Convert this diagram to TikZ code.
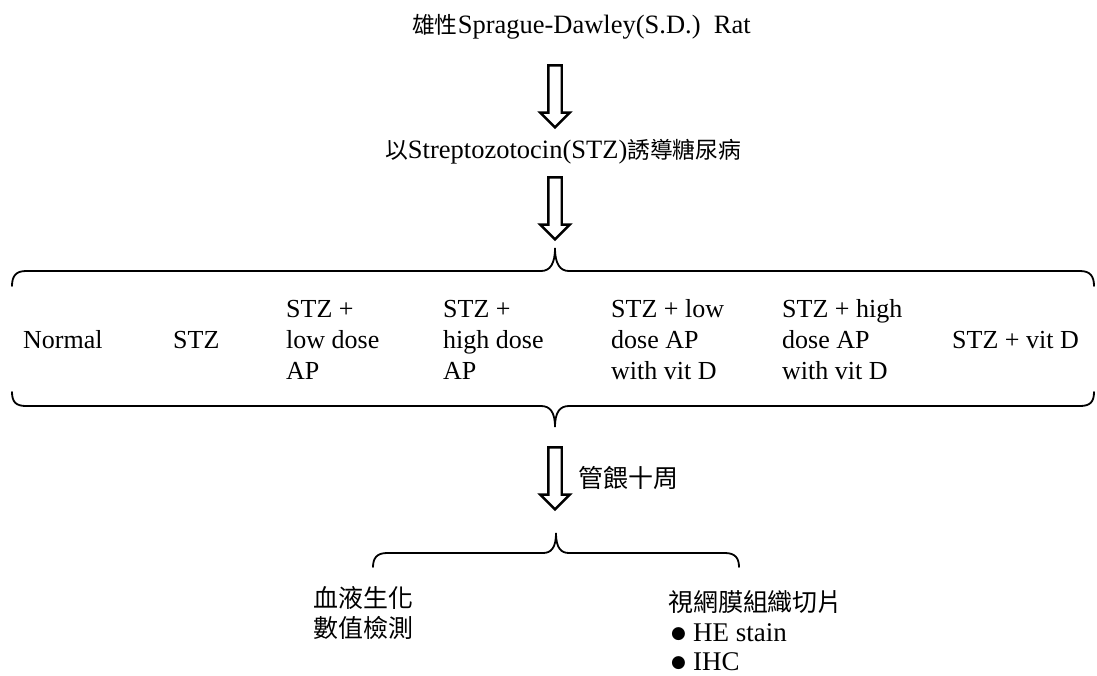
\documentclass[tikz,border=0pt]{standalone}
\usepackage{fontspec}
\setmainfont{Liberation Serif}
\newfontfamily\cjk[Scale=0.86]{Noto Sans CJK TC}
\newfontfamily\symb{DejaVu Sans}
\usetikzlibrary{shapes.arrows, positioning}

\begin{document}
\begin{tikzpicture}[
		x=1pt, y=-1pt,
		steplabel/.style={
			inner sep=0pt,
			anchor=base west,
			font=\fontsize{26.5}{31}\selectfont,
		},
		grouplabel/.style={
			inner sep=0pt,
			anchor=west,
			align=left,
			font=\fontsize{26}{31}\selectfont,
		},
		resultlabel/.style={
			inner sep=0pt,
			anchor=west,
			align=left,
			font=\fontsize{27}{29.5}\selectfont,
		},
		bigarrow/.style={
			single arrow,
			draw,
			fill=white,
			line width=2.4pt,
			rotate=-90,
			minimum height=62pt,
			minimum width=27pt,
			inner sep=5.5pt,
			single arrow head extend=8pt,
		},
		brace/.style={
			line width=1.8pt,
			line cap=round,
		}
	]

		\newcommand{\bigcjk}{\cjk\fontsize{29}{31}\selectfont}
		\newcommand{\dotitem}{\hspace{3pt}\makebox[22pt][l]{\raisebox{3pt}{\symb\fontsize{17}{17}\selectfont ●}}}

		\useasboundingbox (0,0) rectangle (1097,675);

		% Steps
		\node[steplabel] (rat) at (412,33) {{\cjk 雄性}Sprague-Dawley(S.D.)~ Rat};
		\node[steplabel] (induce) at (385,158) {{\cjk 以}Streptozotocin(STZ){\cjk 誘導糖尿病}};

		\node[bigarrow] (arrRat) at (555,93) {};
		\node[bigarrow] (arrInduce) at (555,205) {};

		% Groups
		\draw[brace] (12,286) .. controls (12,276) and (16,271) .. (26,271) -- (541,271)
			.. controls (550,271) and (555,264) .. (555,248)
			.. controls (555,264) and (560,271) .. (569,271) -- (1080,271)
			.. controls (1090,271) and (1094,276) .. (1094,286);
		\draw[brace] (12,392) .. controls (12,402) and (16,406) .. (26,406) -- (541,406)
			.. controls (550,406) and (555,412) .. (555,427)
			.. controls (555,412) and (560,406) .. (569,406) -- (1080,406)
			.. controls (1090,406) and (1094,402) .. (1094,392);

		\node[grouplabel] (normal) at (23,340) {Normal};
		\node[grouplabel] (stz) at (173,340) {STZ};
		\node[grouplabel] (lowAP) at (286,340) {STZ +\\low dose\\AP};
		\node[grouplabel] (highAP) at (443,340) {STZ +\\high dose\\AP};
		\node[grouplabel] (lowAPvd) at (611,340) {STZ + low\\dose AP\\with vit D};
		\node[grouplabel] (highAPvd) at (782,340) {STZ + high\\dose AP\\with vit D};
		\node[grouplabel] (vitD) at (952,340) {STZ + vit D};

		% Feeding
		\node[bigarrow] (arrFeed) at (555,475) {};
		\node[resultlabel] (feed) at (578,478) {\bigcjk 管餵十周};

		% Results
		\draw[brace] (373,567) .. controls (373,558) and (377,553) .. (387,553) -- (543,553)
			.. controls (551,553) and (556,548) .. (556,533)
			.. controls (556,548) and (561,553) .. (569,553) -- (725,553)
			.. controls (735,553) and (739,558) .. (739,567);

		\node[resultlabel] (blood) at (313,613) {\bigcjk 血液生化\\\bigcjk 數值檢測};
		\node[resultlabel] (retina) at (668,631) {\bigcjk 視網膜組織切片\\
			\dotitem HE stain\\
			\dotitem IHC};

	\end{tikzpicture}
\end{document}
